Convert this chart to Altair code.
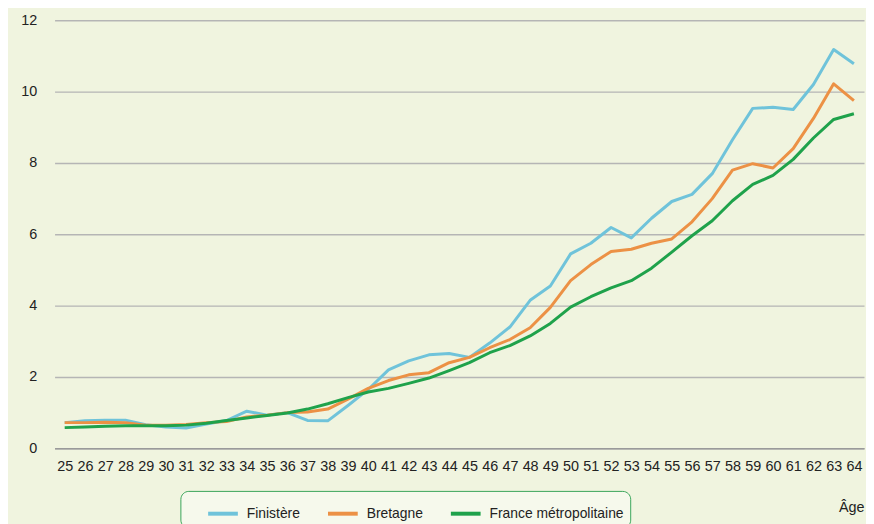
import altair as alt
import pandas as pd

ages = list(range(25, 65))
finistere = [0.72, 0.77, 0.79, 0.79, 0.66, 0.60, 0.57, 0.68, 0.78, 1.04,
             0.93, 1.00, 0.78, 0.77, 1.20, 1.65, 2.20, 2.45, 2.62, 2.66,
             2.55, 2.95, 3.40, 4.15, 4.55, 5.45, 5.75, 6.19, 5.90, 6.45,
             6.92, 7.12, 7.70, 8.65, 9.53, 9.56, 9.50, 10.20, 11.18, 10.78]
bretagne = [0.72, 0.72, 0.73, 0.72, 0.65, 0.65, 0.67, 0.72, 0.75, 0.88,
            0.93, 1.00, 1.02, 1.10, 1.38, 1.68, 1.90, 2.06, 2.12, 2.40,
            2.55, 2.82, 3.05, 3.38, 3.95, 4.70, 5.15, 5.52, 5.58, 5.75,
            5.87, 6.35, 7.00, 7.80, 7.98, 7.86, 8.40, 9.25, 10.22, 9.75]
france = [0.58, 0.60, 0.62, 0.63, 0.63, 0.63, 0.65, 0.70, 0.78, 0.85,
          0.92, 0.99, 1.10, 1.25, 1.42, 1.58, 1.68, 1.82, 1.97, 2.18,
          2.40, 2.68, 2.88, 3.15, 3.50, 3.96, 4.25, 4.50, 4.70, 5.05,
          5.50, 5.96, 6.38, 6.94, 7.40, 7.65, 8.10, 8.70, 9.22, 9.38]

series_names = ["Finistère", "Bretagne", "France métropolitaine"]
series_colors = ["#6fc3da", "#ec9145", "#1fa24b"]
y_ticks = [0, 2, 4, 6, 8, 10, 12]

rows = []
for name, vals in zip(series_names, [finistere, bretagne, france]):
    for a, v in zip(ages, vals):
        rows.append({"age": a, "value": v, "serie": name})
df = pd.DataFrame(rows)

FONT = "Liberation Sans"

chart = alt.Chart(df).mark_line(strokeWidth=3, strokeJoin="round").encode(
    x=alt.X("age:O", title="Âge", sort=ages,
            axis=alt.Axis(labelAngle=0, ticks=False, tickSize=0, labelPadding=11,
                          labelFontSize=14.5, labelFont=FONT, labelColor="#222222",
                          domainColor="#9a9a9a", domainWidth=1.5, grid=False,
                          titleFont=FONT, titleFontSize=14.5, titleFontWeight="normal",
                          titleColor="#222222", titleAnchor="end", titleAlign="right",
                          titleX=817, titleY=64, titleBaseline="alphabetic")),
    y=alt.Y("value:Q", title=None, scale=alt.Scale(domain=[0, 12], nice=False),
            axis=alt.Axis(values=y_ticks, ticks=False, tickSize=0, domain=False,
                          labelPadding=18, labelFontSize=14.5, labelFont=FONT,
                          labelColor="#222222", gridColor="#b5b5b5", gridWidth=1.5)),
    color=alt.Color("serie:N", sort=series_names,
                    scale=alt.Scale(domain=series_names, range=series_colors),
                    legend=alt.Legend(title=None, orient="none", legendX=127, legendY=475,
                                      direction="horizontal", symbolType="stroke",
                                      symbolSize=900, symbolStrokeWidth=4,
                                      labelFont=FONT, labelFontSize=14, labelColor="#222222",
                                      labelOffset=7, columnPadding=6, padding=6,
                                      symbolOffset=20,
                                      strokeColor="#3aa55a", cornerRadius=8,
                                      fillColor="#f6f9ec")),
).properties(
    width=817, height=432,
    autosize=alt.AutoSizeParams(type="none"),
    padding={"left": 47, "top": 10, "right": 2, "bottom": 74},
    background="#f0f4df",
).configure_view(stroke=None)

chart.save("out.html", embed_options={"renderer": "svg", "actions": False})
